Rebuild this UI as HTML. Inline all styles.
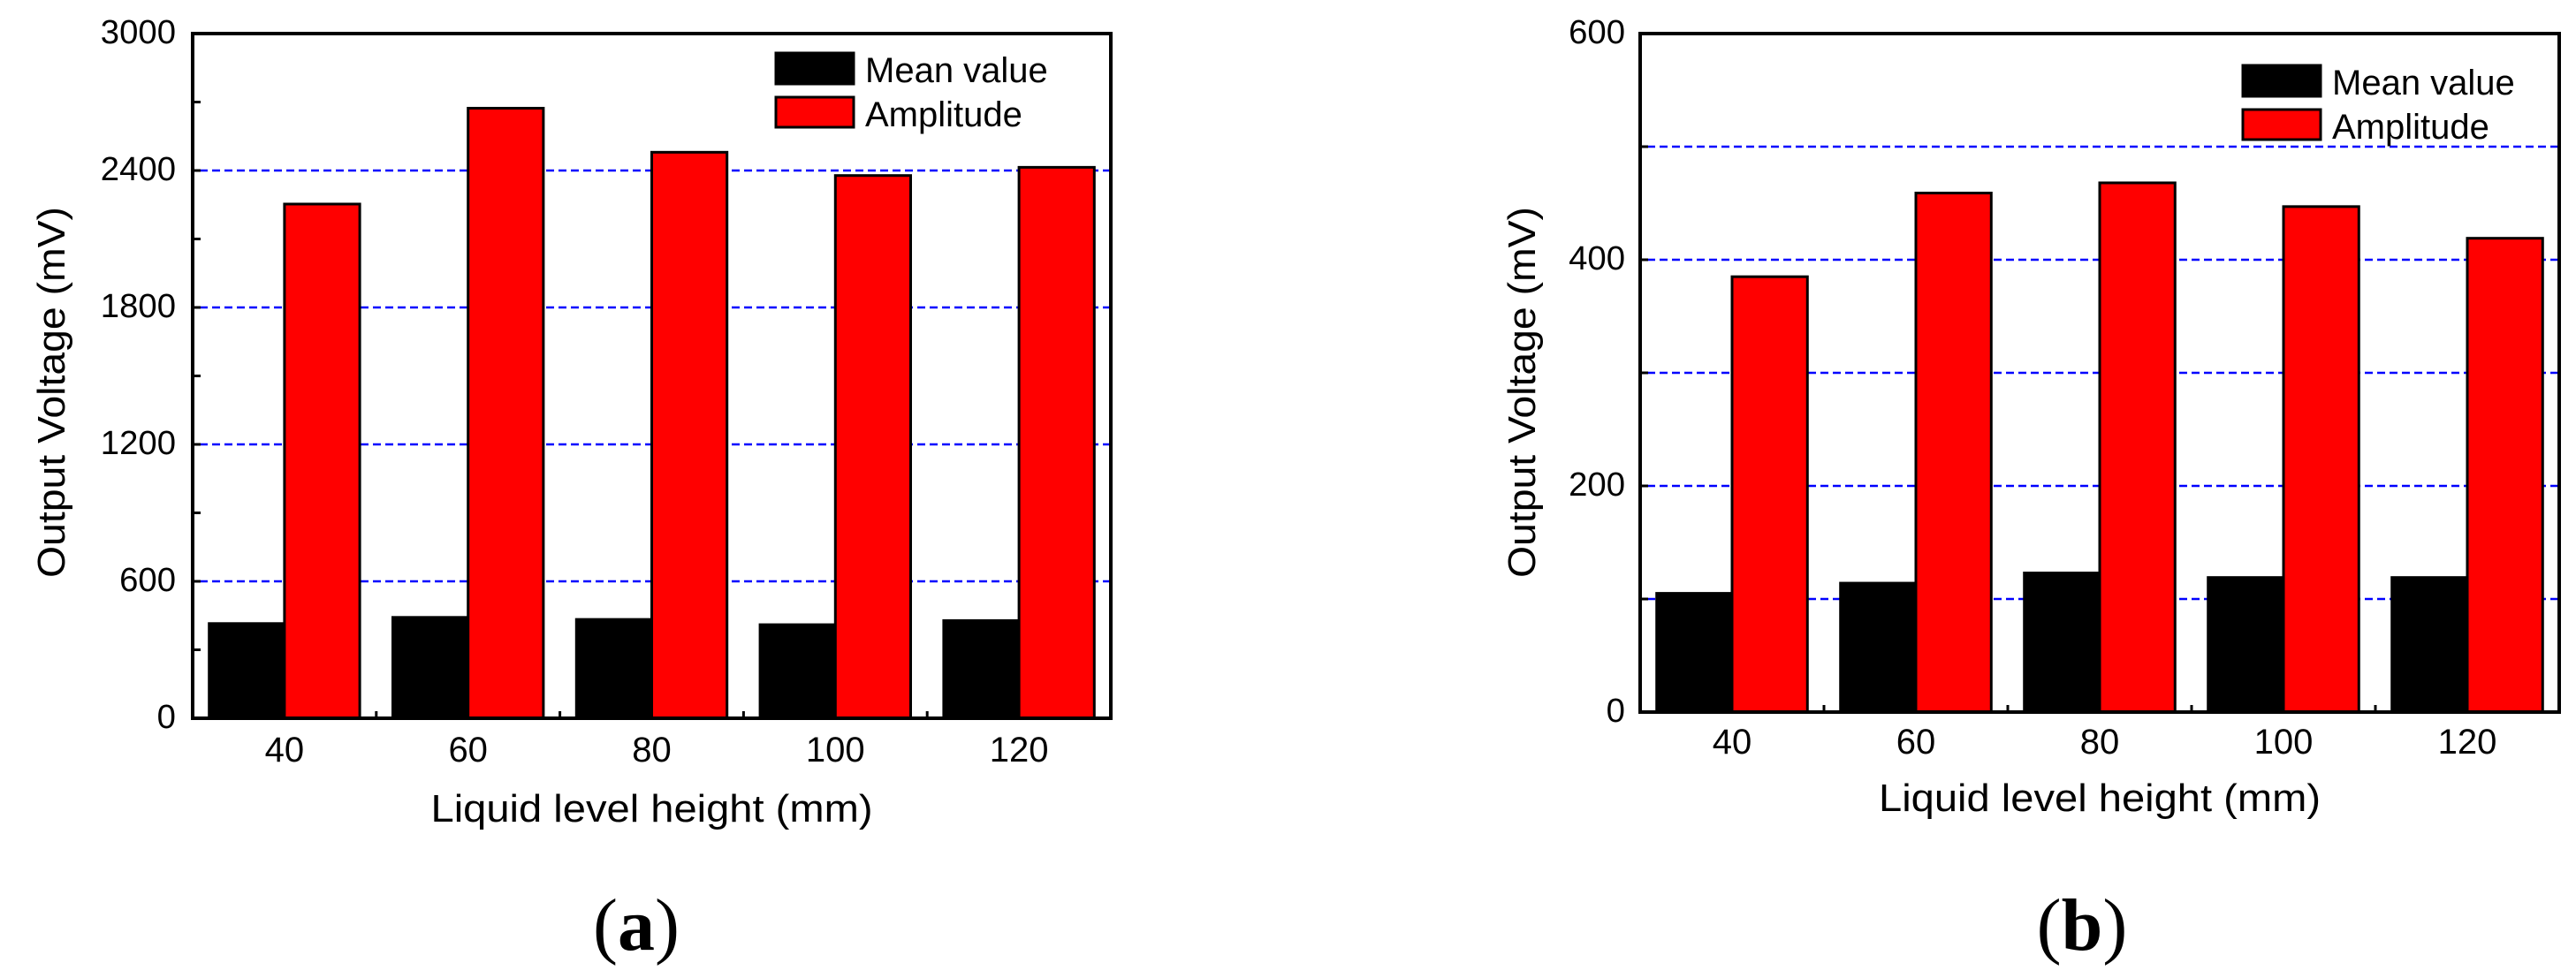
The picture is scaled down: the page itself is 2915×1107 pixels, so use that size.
<!DOCTYPE html>
<html><head><meta charset="utf-8">
<style>
html,body{margin:0;padding:0;background:#fff;}
svg{display:block;}
text{font-family:"Liberation Sans",sans-serif;fill:#000;}
</style></head>
<body>
<svg id="fig" width="2915" height="1107" viewBox="0 0 2915 1107" xmlns="http://www.w3.org/2000/svg">
<g id="chartA"></g>
<g id="chartB"></g>
<text x="720" y="1075" text-anchor="middle" style="font-family:'Liberation Serif',serif;font-size:84px">(<tspan font-weight="bold">a</tspan>)</text>
<text x="2356" y="1075" text-anchor="middle" style="font-family:'Liberation Serif',serif;font-size:84px">(<tspan font-weight="bold">b</tspan>)</text>
</svg>
<script>
const categories = ["40","60","80","100","120"];
const meanA = [415, 442, 433, 410, 428];
const ampA = [2253, 2673, 2480, 2378, 2414];
const yTicksA = [0, 600, 1200, 1800, 2400, 3000];
const meanB = [105, 114, 123, 119, 119];
const ampB = [385, 459, 468, 447, 419];
const yTicksB = [0, 200, 400, 600];

const NS = "http://www.w3.org/2000/svg";
function mk(parent, tag, attrs, txt){
  const e = document.createElementNS(NS, tag);
  for (const k in attrs) e.setAttribute(k, attrs[k]);
  if (txt !== undefined) e.textContent = txt;
  parent.appendChild(e);
  return e;
}
function draw(g, cfg){
  const {L,R,T,B,ymax,yMinorStep,gridStep,ticks,mean,amp,legX,legY,labelRight,titleX,xLabY,xTitleY} = cfg;
  const n = categories.length;
  const bw = (R-L)/n;
  const xS = i => L + bw*(i+0.5);
  const yS = v => B - v/ymax*(B-T);
  for (let v = gridStep; v < ymax; v += gridStep){
    const l = mk(g,'line',{x1:L+8,x2:R,y1:yS(v),y2:yS(v),stroke:'#0000ff','stroke-width':2.5,'stroke-dasharray':'9,5'});
    
    
  }
  const w = bw*0.41;
  categories.forEach((c,i)=>{
    const cx = xS(i);
    const b1 = mk(g,'rect',{x:cx-w,y:yS(mean[i]),width:w,height:B-yS(mean[i]),fill:'#000',stroke:'#000','stroke-width':3});
    
    
    const b2 = mk(g,'rect',{x:cx,y:yS(amp[i]),width:w,height:B-yS(amp[i]),fill:'#ff0000',stroke:'#000','stroke-width':3});
    
    
    const t = mk(g,'text',{x:cx,y:xLabY,'text-anchor':'middle','font-size':40},c);
    
    
    if (i>0){
      const tk = mk(g,'line',{x1:L+bw*i,x2:L+bw*i,y1:B,y2:B-8,stroke:'#000','stroke-width':3});
      
      
    }
  });
  for (let v = yMinorStep; v < ymax; v += yMinorStep){
    const tk = mk(g,'line',{x1:L,x2:L+9,y1:yS(v),y2:yS(v),stroke:'#000','stroke-width':3});
    
    
  }
  ticks.forEach(v=>{
    const s = String(v);
    const t = mk(g,'text',{x:labelRight,y:yS(v)+11,'text-anchor':'end','font-size':38,textLength:s.length*21.3,lengthAdjust:'spacingAndGlyphs'},s);
    
    
  });
  const f = mk(g,'rect',{x:L,y:T,width:R-L,height:B-T,fill:'none',stroke:'#000','stroke-width':4});
  
  
  const l1 = mk(g,'rect',{x:legX,y:legY,width:88,height:35,fill:'#000',stroke:'#000','stroke-width':3});
  
  
  const lt1 = mk(g,'text',{x:legX+101,y:legY+33,'font-size':40},'Mean value');
  
  
  const l2 = mk(g,'rect',{x:legX,y:legY+50,width:88,height:34,fill:'#ff0000',stroke:'#000','stroke-width':3});
  
  
  const lt2 = mk(g,'text',{x:legX+101,y:legY+83,'font-size':40},'Amplitude');
  
  
  const xt = mk(g,'text',{x:(L+R)/2,y:xTitleY,'text-anchor':'middle','font-size':44,textLength:500,lengthAdjust:'spacingAndGlyphs'},'Liquid level height (mm)');
  
  
  const yt = mk(g,'text',{x:0,y:0,'text-anchor':'middle','font-size':44,textLength:420,lengthAdjust:'spacingAndGlyphs',transform:`translate(${titleX},444) rotate(-90)`},'Output Voltage (mV)');
  
  
}
draw(document.getElementById('chartA'),{L:218,R:1257,T:38,B:813,ymax:3000,yMinorStep:300,gridStep:600,ticks:yTicksA,mean:meanA,amp:ampA,legX:878,legY:60,labelRight:199,titleX:73,xLabY:862,xTitleY:930});
draw(document.getElementById('chartB'),{L:1856,R:2896,T:38,B:806,ymax:600,yMinorStep:100,gridStep:100,ticks:yTicksB,mean:meanB,amp:ampB,legX:2538,legY:74,labelRight:1839,titleX:1737,xLabY:853,xTitleY:918});
</script>
</body></html>
